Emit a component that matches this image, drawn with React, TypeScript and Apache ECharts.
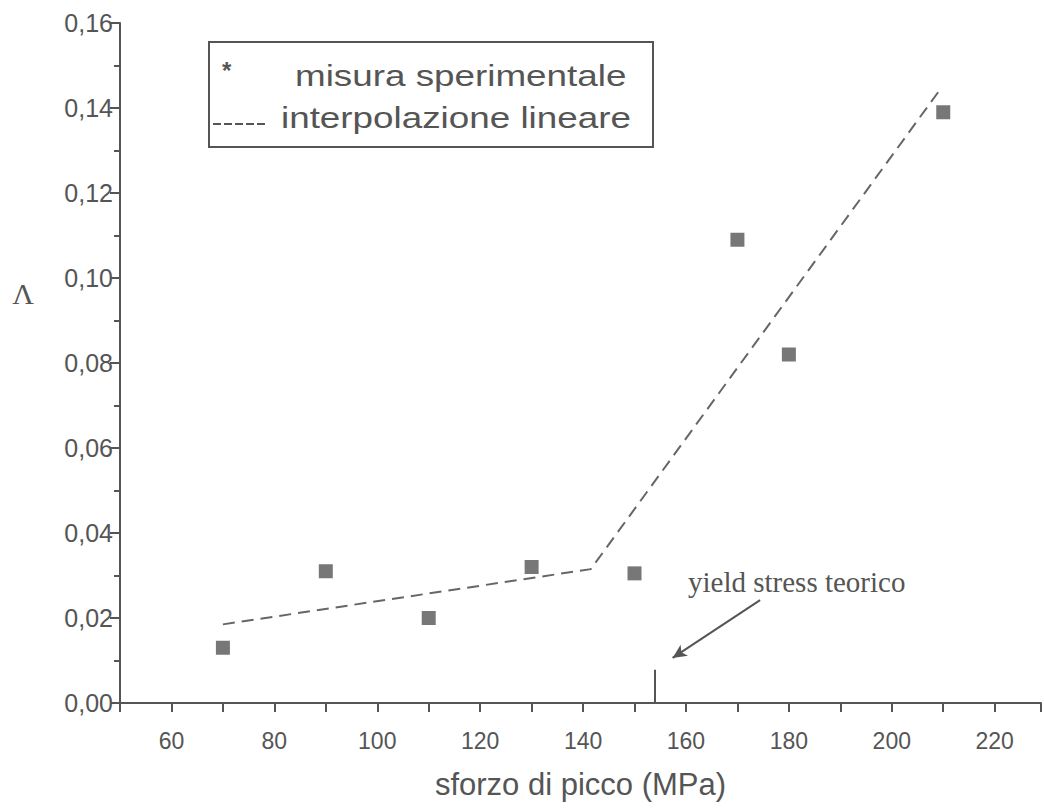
import React, { useEffect, useRef } from "react";
import * as echarts from "echarts";

// Experimental measurements: peak stress (MPa) vs Λ
const stressValues = [70, 90, 110, 130, 150, 170, 180, 210];
const lambdaValues = [0.013, 0.031, 0.02, 0.032, 0.0305, 0.109, 0.082, 0.139];

// Piecewise linear interpolation
const fitStress = [70, 141.5, 209.6];
const fitLambda = [0.0185, 0.0315, 0.1447];

// Theoretical yield stress marker and annotation arrow
const yieldStress = 154;
const yieldMarkTop = 0.0078;
const arrowFrom = [174.4, 0.0242];
const arrowTo = [157.4, 0.0106];

const yTicks = { min: 0, max: 0.16, interval: 0.02 };
const xTicks = { min: 50, max: 229, interval: 10, labelStep: 20 };

const GRAY = "#555555";
const SANS = "Liberation Sans, Arial, sans-serif";
const SERIF = "Liberation Serif, 'Times New Roman', serif";

export default function App() {
  const ref = useRef<HTMLDivElement>(null);

  useEffect(() => {
    if (!ref.current) return;
    const chart = echarts.init(ref.current, undefined, { renderer: "svg" });

    const scatterData = stressValues.map((x, i) => [x, lambdaValues[i]]);
    const fitData = fitStress.map((x, i) => [x, fitLambda[i]]);

    chart.setOption({
      animation: false,
      backgroundColor: "#ffffff",
      textStyle: { fontFamily: SANS, color: GRAY },
      grid: { left: 120, right: 0, top: 23, bottom: 108, containLabel: false },
      xAxis: {
        type: "value",
        min: xTicks.min,
        max: xTicks.max,
        interval: xTicks.interval,
        name: "sforzo di picco (MPa)",
        nameLocation: "middle",
        nameGap: 66,
        nameTextStyle: { fontSize: 31, color: GRAY, fontFamily: SANS },
        axisLine: { show: true, lineStyle: { color: GRAY, width: 2 } },
        axisTick: { show: true, length: 9, lineStyle: { color: GRAY, width: 2 } },
        axisLabel: {
          fontSize: 23,
          color: GRAY,
          margin: 26,
          formatter: (v: number) => (v % xTicks.labelStep === 0 ? String(v) : ""),
        },
        splitLine: { show: false },
      },
      yAxis: {
        type: "value",
        min: yTicks.min,
        max: yTicks.max,
        interval: yTicks.interval,
        axisLine: { show: true, lineStyle: { color: GRAY, width: 2 } },
        axisTick: { show: true, length: 10, lineStyle: { color: GRAY, width: 2 } },
        minorTick: { show: true, splitNumber: 2, length: 6, lineStyle: { color: GRAY, width: 2 } },
        axisLabel: {
          fontSize: 25,
          color: GRAY,
          margin: 7,
          formatter: (v: number) => v.toFixed(2).replace(".", ","),
        },
        splitLine: { show: false },
      },
      series: [
        {
          name: "misura sperimentale",
          type: "scatter",
          symbol: "rect",
          symbolSize: 14,
          itemStyle: { color: GRAY },
          data: scatterData,
          z: 3,
        },
        {
          name: "interpolazione lineare",
          type: "line",
          data: fitData,
          showSymbol: false,
          symbol: "none",
          lineStyle: { color: "#666666", width: 2, type: [12, 7] },
          markLine: {
            silent: true,
            animation: false,
            label: { show: false },
            data: [
              [
                { coord: [yieldStress, 0], symbol: "none" },
                { coord: [yieldStress, yieldMarkTop], symbol: "none" },
              ],
              [
                { coord: arrowFrom, symbol: "none" },
                { coord: arrowTo, symbol: "arrow", symbolSize: [10, 14] },
              ],
            ],
            lineStyle: { color: GRAY, width: 2, type: "solid" },
          },
        },
      ],
      graphic: [
        {
          type: "text",
          x: 23,
          y: 293,
          style: {
            text: "Λ",
            fontSize: 30,
            fill: GRAY,
            fontFamily: SERIF,
            align: "center",
            verticalAlign: "middle",
          },
        },
        {
          type: "rect",
          shape: { x: 209, y: 42, width: 444, height: 105 },
          style: { fill: "#ffffff", stroke: GRAY, lineWidth: 2 },
        },
        {
          type: "text",
          x: 222,
          y: 58,
          style: { text: "*", fontSize: 24, fontWeight: "bold", fill: GRAY, fontFamily: SANS },
        },
        {
          type: "text",
          x: 295,
          y: 76,
          scaleX: 1.27,
          style: {
            text: "misura sperimentale",
            fontSize: 29,
            fill: GRAY,
            fontFamily: SANS,
            verticalAlign: "middle",
          },
        },
        {
          type: "line",
          shape: { x1: 213, y1: 124, x2: 268, y2: 124 },
          style: { stroke: GRAY, lineWidth: 2, lineDash: [8, 3] },
        },
        {
          type: "text",
          x: 281,
          y: 118,
          scaleX: 1.27,
          style: {
            text: "interpolazione lineare",
            fontSize: 29,
            fill: GRAY,
            fontFamily: SANS,
            verticalAlign: "middle",
          },
        },
        {
          type: "text",
          x: 688,
          y: 582,
          style: {
            text: "yield stress teorico",
            fontSize: 29,
            fill: GRAY,
            fontFamily: SERIF,
            verticalAlign: "middle",
          },
        },
      ],
    });

    return () => chart.dispose();
  }, []);

  return (
    <div
      ref={ref}
      style={{ position: "fixed", left: 0, top: 0, width: 1044, height: 811, background: "#fff" }}
    />
  );
}
